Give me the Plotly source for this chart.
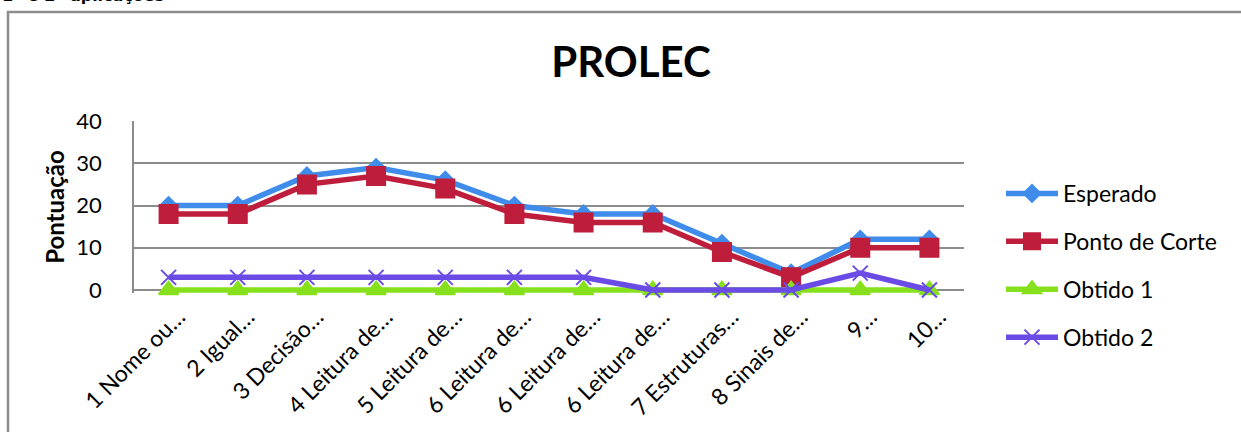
import plotly.graph_objects as go

# PROLEC subtest labels (truncated as shown on the axis)
categories = ["1 Nome ou…", "2 Igual…", "3 Decisão…", "4 Leitura de…",
              "5 Leitura de…", "6 Leitura de…", "6 Leitura de…", "6 Leitura de…",
              "7 Estruturas…", "8 Sinais de…", "9…", "10…"]

esperado = [20, 20, 27, 29, 26, 20, 18, 18, 11, 4, 12, 12]
ponto_corte = [18, 18, 25, 27, 24, 18, 16, 16, 9, 3, 10, 10]
obtido_1 = [0, 0, 0, 0, 0, 0, 0, 0, 0, 0, 0, 0]
obtido_2 = [3, 3, 3, 3, 3, 3, 3, 0, 0, 0, 4, 0]

y_ticks = [0, 10, 20, 30, 40]

FONT = "Lato"
W, H = 1241, 432
# plot area in pixels; the y range starts a little below 0 so the
# line drawn along zero is not cut in half by the plot clip
Y_MIN, Y_MAX = -0.7, 40
L, R, T, B = 134, 964, 121, 293

xs = list(range(len(categories)))

series = [
    ("Esperado", esperado, "#3F8CEB", "diamond", 13),
    ("Ponto de Corte", ponto_corte, "#BE1D3B", "square", 18),
    ("Obtido 1", obtido_1, "#86E01C", "triangle-up", 17),
    ("Obtido 2", obtido_2, "#6B4BE6", "x-thin", 15),
]

fig = go.Figure()
for i, (name, vals, color, symbol, size) in enumerate(series):
    fig.add_trace(go.Scatter(
        x=xs, y=vals, name=name, mode="lines+markers",
        line=dict(color=color, width=5.5),
        marker=dict(symbol=symbol, size=size, color=color,
                    line=dict(color=color, width=2)),
        legendgroup=f"g{i}",
        cliponaxis=False,
    ))

def px_x(p):
    return (p - L) / (R - L)

def px_y(p):
    return (B - p) / (B - T)

fig.update_layout(
    width=W, height=H,
    margin=dict(l=L, r=W - R, t=T, b=H - B, pad=0),
    paper_bgcolor="white", plot_bgcolor="white",
    font=dict(family=FONT, size=23, color="black"),
    title=dict(text="<b>PROLEC</b>", x=631 / W, xanchor="center",
               xref="container", y=1 - 62 / H, yanchor="middle",
               yref="container",
               font=dict(family=FONT, size=42, color="black")),
    showlegend=True,
    legend=dict(x=1001 / W, xanchor="left", xref="container",
                y=1 - 172 / H, yanchor="top", yref="container",
                font=dict(family=FONT, size=23, color="black"),
                tracegroupgap=15, bgcolor="rgba(0,0,0,0)",
                itemwidth=52, maxheight=1.0),
    xaxis=dict(range=[-0.5, len(categories) - 0.5], tickmode="array",
               tickvals=xs, ticktext=categories, tickangle=-45,
               showgrid=False, zeroline=False, showline=False,
               ticks="", ticklabelshift=10, ticklabelstandoff=5,
               tickfont=dict(family=FONT, size=23)),
    yaxis=dict(range=[Y_MIN, Y_MAX], tickmode="array", tickvals=y_ticks,
               showgrid=True, gridcolor="#8C8C8C", gridwidth=1.5,
               zeroline=False, showline=True, linecolor="#8C8C8C",
               linewidth=1.5, ticks="", ticklabelstandoff=26,
               tickfont=dict(family=FONT, size=22),
               title=dict(text="<b>Pontuação</b>", standoff=5,
                          font=dict(family=FONT, size=24))),
    shapes=[
        dict(type="rect", xref="paper", yref="paper",
             x0=px_x(8), x1=px_x(1260), y0=px_y(445), y1=px_y(12),
             line=dict(color="#8C8C8C", width=2.5), fillcolor="rgba(0,0,0,0)",
             layer="below"),
    ],
    annotations=[
        dict(text="<b>1ª e 2ª aplicações</b>", xref="paper", yref="paper",
             x=px_x(0), xanchor="left", y=px_y(7), yanchor="bottom",
             showarrow=False, font=dict(family="DejaVu Sans", size=16,
                                        color="black")),
    ],
)

fig.write_html("out.html")
